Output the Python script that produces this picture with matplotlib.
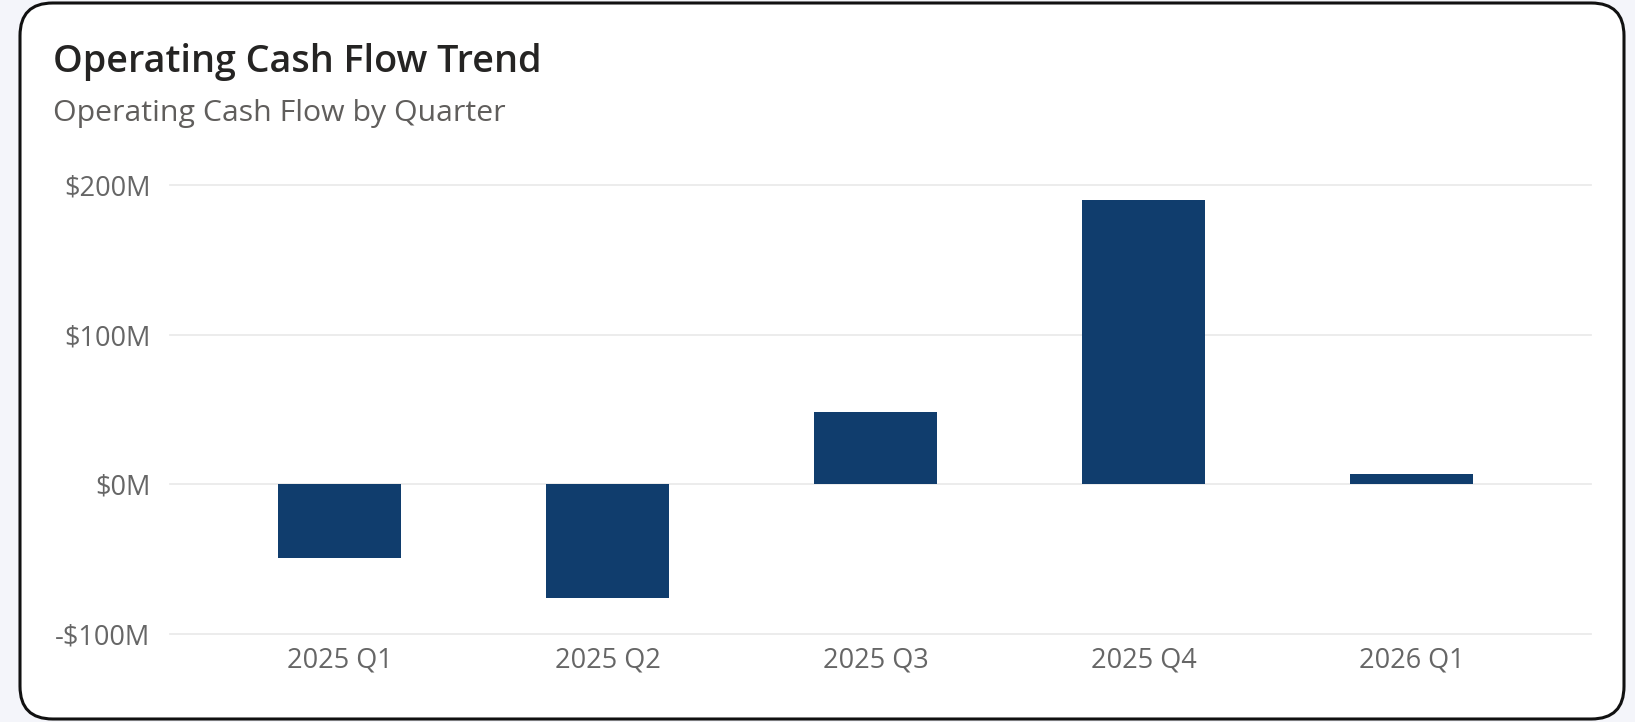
import matplotlib
matplotlib.use("Agg")
import matplotlib.pyplot as plt
from matplotlib.patches import FancyBboxPatch
from matplotlib.ticker import FuncFormatter

plt.rcParams['font.family'] = ['Open Sans', 'DejaVu Sans']

quarters = ['2025 Q1', '2025 Q2', '2025 Q3', '2025 Q4', '2026 Q1']
cash_flow = [-49, -76, 48, 190, 7]   # $M
yticks = [-100, 0, 100, 200]

bar_col = '#103d6d'
txt_col = '#605e5c'
grid_col = '#ebebeb'

fig = plt.figure(figsize=(16.35, 7.22), dpi=100)
fig.patch.set_facecolor('#f4f5fa')

# card
W, H = 1635., 722.
card = FancyBboxPatch((20/W, 3/H), 1604/W, 716/H,
                      boxstyle="round,pad=0,rounding_size=0.02",
                      transform=fig.transFigure, facecolor='white',
                      edgecolor='#111111', linewidth=2.2, mutation_aspect=W/H, zorder=-5)
fig.patches.append(card)

fig.text(53/W, 1-62/H, 'Operating Cash Flow Trend', fontsize=27.2, fontweight='semibold',
         color='#252423', va='center', ha='left')
fig.text(53/W, 1-113/H, 'Operating Cash Flow by Quarter', fontsize=21.8,
         color=txt_col, va='center', ha='left')

ax = fig.add_axes([170/W, 1-634.3/H, 1421/W, 449.6/H])
ax.set_zorder(2)
ax.set_facecolor('none')
x = range(len(quarters))
ax.bar(x, cash_flow, width=0.46, color=bar_col, zorder=3)

ax.set_xlim(-0.6325, 4.67)
ax.set_ylim(-100, 200)
ax.set_yticks(yticks)
ax.yaxis.set_major_formatter(FuncFormatter(lambda v, p: f'-${abs(v):.0f}M' if v < 0 else f'${v:.0f}M'))
ax.set_xticks(list(x))
ax.set_xticklabels(quarters)
for yv in yticks:
    ax.axhline(yv, color=grid_col, linewidth=1.3, zorder=1, clip_on=False)

for s in ax.spines.values():
    s.set_visible(False)
ax.tick_params(axis='both', length=0, labelsize=19.5, labelcolor='#666666')
ax.tick_params(axis='y', pad=14)
ax.tick_params(axis='x', pad=9)

fig.savefig('out.png', dpi=100, facecolor=fig.get_facecolor())
